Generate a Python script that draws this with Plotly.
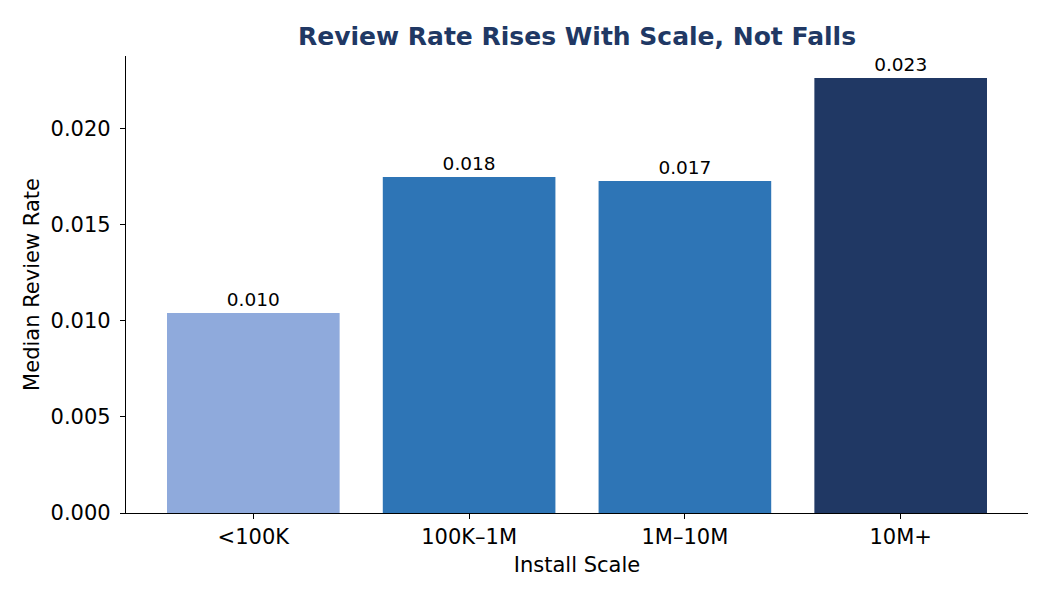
import plotly.graph_objects as go

categories = ["<100K", "100K–1M", "1M–10M", "10M+"]
median_review_rate = [0.01042, 0.01750, 0.01729, 0.02266]
bar_colors = ["#8FAADC", "#2E75B6", "#2E75B6", "#203864"]
y_ticks = [0.0, 0.005, 0.010, 0.015, 0.020]

FONT = "DejaVu Sans"

fig = go.Figure(
    go.Bar(
        x=categories,
        y=median_review_rate,
        marker=dict(color=bar_colors, line=dict(width=0)),
        texttemplate="%{y:.3f}",
        textposition="outside",
        textfont=dict(family=FONT, size=18.5, color="black"),
        cliponaxis=False,
        hoverinfo="skip",
    )
)

fig.update_layout(
    width=1050,
    height=600,
    paper_bgcolor="white",
    plot_bgcolor="white",
    margin=dict(l=126, r=22, t=56, b=87),
    bargap=0.2,
    showlegend=False,
    font=dict(family=FONT, color="black"),
    title=dict(
        text="<b>Review Rate Rises With Scale, Not Falls</b>",
        font=dict(family=FONT, size=25, color="#203864"),
        x=0.5, xref="paper", xanchor="center",
        y=1 - 36 / 600, yref="container", yanchor="middle",
    ),
    uniformtext=dict(mode=False),
)

fig.update_xaxes(
    range=[-0.59, 3.59],
    showline=True, linecolor="black", linewidth=1.3,
    ticks="outside", ticklen=5, tickwidth=1.2, tickcolor="black",
    tickfont=dict(family=FONT, size=21, color="black"),
    showgrid=False, zeroline=False,
    title=dict(text="Install Scale", font=dict(family=FONT, size=21, color="black"), standoff=8),
)
fig.update_yaxes(
    range=[0, 0.0238],
    tickvals=y_ticks,
    tickformat=".3f",
    showline=True, linecolor="black", linewidth=1.3,
    ticks="outside", ticklen=5, tickwidth=1.2, tickcolor="black",
    ticklabelstandoff=5,
    tickfont=dict(family=FONT, size=21, color="black"),
    showgrid=False, zeroline=False,
    title=dict(text="Median Review Rate", font=dict(family=FONT, size=21, color="black"), standoff=5),
)

fig.write_html("out.html")
